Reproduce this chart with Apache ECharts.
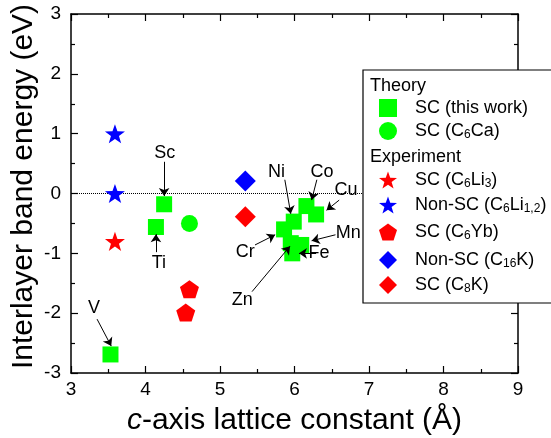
<!DOCTYPE html>
<html>
<head>
<meta charset="utf-8">
<script src="https://cdn.jsdelivr.net/npm/echarts@6/dist/echarts.min.js"></script>
<style>
  html, body { margin: 0; padding: 0; background: #fff; }
  #report-container { width: 551px; height: 438px; }
</style>
</head>
<body>
<div id="report-container"></div>
<script>
// theory: SC (this work)
var theoryElements = ['Sc', 'Ti', 'V', 'Cr', 'Mn', 'Fe', 'Co', 'Ni', 'Cu', 'Zn'];
var theoryC = [4.25, 4.14, 3.53, 5.86, 6.09, 5.97, 6.16, 5.99, 6.29, 5.95];
var theoryE = [-0.18, -0.56, -2.69, -0.60, -0.86, -1.00, -0.21, -0.47, -0.35, -0.83];

// other groups
var caC = [4.59], caE = [-0.50];
var li3C = [3.59], li3E = [-0.80];
var li12C = [3.59, 3.59], li12E = [1.00, 0.00];
var ybC = [4.59, 4.54], ybE = [-1.60, -1.99];
var c16kC = [5.34], c16kE = [0.21];
var c8kC = [5.34], c8kE = [-0.39];

var seriesNames = ['SC (this work)', 'SC (C6Ca)', 'SC (C6Li3)', 'Non-SC (C6Li1,2)', 'SC (C6Yb)', 'Non-SC (C16K)', 'SC (C8K)'];
var legendText = {
    'SC (this work)': 'SC (this work)',
    'SC (C6Ca)': 'SC (C{sub|6}Ca)',
    'SC (C6Li3)': 'SC (C{sub|6}Li{sub|3})',
    'Non-SC (C6Li1,2)': 'Non-SC (C{sub|6}Li{sub|1,2})',
    'SC (C6Yb)': 'SC (C{sub|6}Yb)',
    'Non-SC (C16K)': 'Non-SC (C{sub|16}K)',
    'SC (C8K)': 'SC (C{sub|8}K)'
};

// annotation labels (data coords) and arrows
var annoLabelX = [4.26, 4.18, 3.31, 5.34, 6.72, 6.33, 6.37, 5.76, 6.69, 5.30];
var annoLabelY = [0.68, -1.17, -1.92, -0.97, -0.66, -1.00, 0.36, 0.36, 0.06, -1.78];
var arrowFrom = [[4.25, 0.53], [4.14, -0.98], [3.35, -2.10], [5.47, -0.86], [6.55, -0.69], [6.29, -1.00], [6.30, 0.23], [5.87, 0.23], [6.60, -0.11], [5.43, -1.64]];
var arrowTo = [[4.25, -0.04], [4.14, -0.68], [3.54, -2.55], [5.74, -0.69], [6.23, -0.79], [6.06, -1.00], [6.23, -0.11], [5.95, -0.34], [6.43, -0.28], [5.94, -0.88]];

var xTicks = [3, 4, 5, 6, 7, 8, 9];
var yTicks = [-3, -2, -1, 0, 1, 2, 3];

var FONT = 'Liberation Sans, Arial, sans-serif';
var STAR = 'path://M0,-10L2.35,-3.24L9.51,-3.09L3.8,1.24L5.88,8.09L0,4L-5.88,8.09L-3.8,1.24L-9.51,-3.09L-2.35,-3.24Z';
var PENTA = 'path://M0,-10L9.51,-3.09L5.88,8.09L-5.88,8.09L-9.51,-3.09Z';

function pts(xs, ys) {
    return xs.map(function (x, i) { return [x, ys[i]]; });
}

var dom = document.getElementById('report-container');
var myChart = echarts.init(dom, null, { renderer: 'canvas' });

function baseAxis(min, max) {
    return {
        type: 'value',
        min: min,
        max: max,
        interval: 1,
        splitLine: { show: false },
        axisLine: { show: true, onZero: false, lineStyle: { color: '#000', width: 1.5 } },
        axisTick: { show: true, inside: true, length: 7, lineStyle: { color: '#000', width: 1.2 } },
        minorTick: { show: true, splitNumber: 2, length: 4, lineStyle: { color: '#000', width: 1.2 } }
    };
}

var xMain = baseAxis(xTicks[0], xTicks[xTicks.length - 1]);
xMain.position = 'bottom';
xMain.axisLabel = { fontSize: 19, color: '#000', fontFamily: FONT, margin: 7 };
xMain.name = '{i|c}-axis lattice constant (Å)';
xMain.nameLocation = 'middle';
xMain.nameGap = 33;
xMain.nameMoveOverlap = false;
xMain.nameTextStyle = {
    fontSize: 30, color: '#000', fontFamily: FONT,
    rich: { i: { fontSize: 30, fontStyle: 'italic', color: '#000', fontFamily: FONT } }
};
var xTop = baseAxis(xTicks[0], xTicks[xTicks.length - 1]);
xTop.position = 'top';
xTop.axisLabel = { show: false };

var yMain = baseAxis(yTicks[0], yTicks[yTicks.length - 1]);
yMain.position = 'left';
yMain.axisLabel = { fontSize: 19, color: '#000', fontFamily: FONT, margin: 10 };
yMain.name = 'Interlayer band energy (eV)';
yMain.nameLocation = 'middle';
yMain.nameGap = 32;
yMain.nameMoveOverlap = false;
yMain.nameTextStyle = { fontSize: 30, color: '#000', fontFamily: FONT, padding: [0, 0, 0, 14] };
var yRight = baseAxis(yTicks[0], yTicks[yTicks.length - 1]);
yRight.position = 'right';
yRight.axisLabel = { show: false };

function scatter(name, data, symbol, size, color) {
    return {
        name: name,
        type: 'scatter',
        xAxisIndex: 0,
        yAxisIndex: 0,
        data: data,
        symbol: symbol,
        symbolSize: size,
        symbolKeepAspect: true,
        itemStyle: { color: color, opacity: 1 },
        emphasis: { disabled: true },
        z: 3
    };
}

var series = [
    scatter(seriesNames[0], pts(theoryC, theoryE), 'rect', 16, '#00ff00'),
    scatter(seriesNames[1], pts(caC, caE), 'circle', 17, '#00ff00'),
    scatter(seriesNames[2], pts(li3C, li3E), STAR, 20, '#ff0000'),
    scatter(seriesNames[3], pts(li12C, li12E), STAR, 20, '#0000ff'),
    scatter(seriesNames[4], pts(ybC, ybE), PENTA, 19, '#ff0000'),
    scatter(seriesNames[5], pts(c16kC, c16kE), 'diamond', 21, '#0000ff'),
    scatter(seriesNames[6], pts(c8kC, c8kE), 'diamond', 21, '#ff0000')
];

// dotted zero line
series[0].markLine = {
    silent: true,
    symbol: 'none',
    label: { show: false },
    lineStyle: { color: '#000', type: 'dotted', width: 1 },
    data: [{ yAxis: 0 }],
    z: 1
};

// element labels with arrows
series.push({
    name: 'labels',
    type: 'scatter',
    data: annoLabelX.map(function (x, i) {
        return { name: theoryElements[i], value: [x, annoLabelY[i]] };
    }),
    symbolSize: 0,
    silent: true,
    itemStyle: { opacity: 1, color: '#000' },
    label: {
        show: true,
        position: 'inside',
        formatter: function (p) { return p.name; },
        fontSize: 18,
        color: '#000',
        opacity: 1,
        fontFamily: FONT
    },
    markLine: {
        silent: true,
        symbol: ['none', 'arrow'],
        symbolSize: 8,
        label: { show: false },
        lineStyle: { color: '#000', type: 'solid', width: 1, opacity: 1 },
        data: arrowFrom.map(function (f, i) {
            return [{ coord: f }, { coord: arrowTo[i] }];
        })
    },
    z: 4
});

var iconY = [108, 131, 180, 205, 232, 260, 285];
var legends = seriesNames.map(function (n, i) {
    return {
        data: [n],
        left: 379,
        top: iconY[i] - 9,
        orient: 'vertical',
        padding: 0,
        itemWidth: 18,
        itemHeight: 18,
        selectedMode: false,
        z: 120,
        formatter: function (name) { return legendText[name]; },
        textStyle: {
            fontSize: 18,
            color: '#000',
            fontFamily: FONT,
            padding: [0, 0, 0, 13],
            rich: {
                sub: { fontSize: 12, color: '#000', fontFamily: FONT, verticalAlign: 'bottom', padding: [8, 0, 0, 0] }
            }
        }
    };
});

var option = {
    animation: false,
    backgroundColor: '#fff',
    grid: { left: 71, right: 33, top: 14, bottom: 65, containLabel: false, outerBoundsMode: 'none' },
    xAxis: [xMain, xTop],
    yAxis: [yMain, yRight],
    legend: legends,
    graphic: [
        {
            type: 'rect',
            z: 100,
            shape: { x: 363, y: 70, width: 200, height: 233 },
            style: { fill: '#fff', stroke: '#000', lineWidth: 1.2 }
        },
        {
            type: 'text',
            z: 120,
            x: 370,
            y: 86,
            style: { text: 'Theory', font: '18px ' + FONT, fill: '#000', textAlign: 'left', textVerticalAlign: 'middle' }
        },
        {
            type: 'text',
            z: 120,
            x: 370,
            y: 157,
            style: { text: 'Experiment', font: '18px ' + FONT, fill: '#000', textAlign: 'left', textVerticalAlign: 'middle' }
        }
    ],
    series: series
};

if (option && typeof option === 'object') {
    myChart.setOption(option, true);
}
</script>
</body>
</html>
